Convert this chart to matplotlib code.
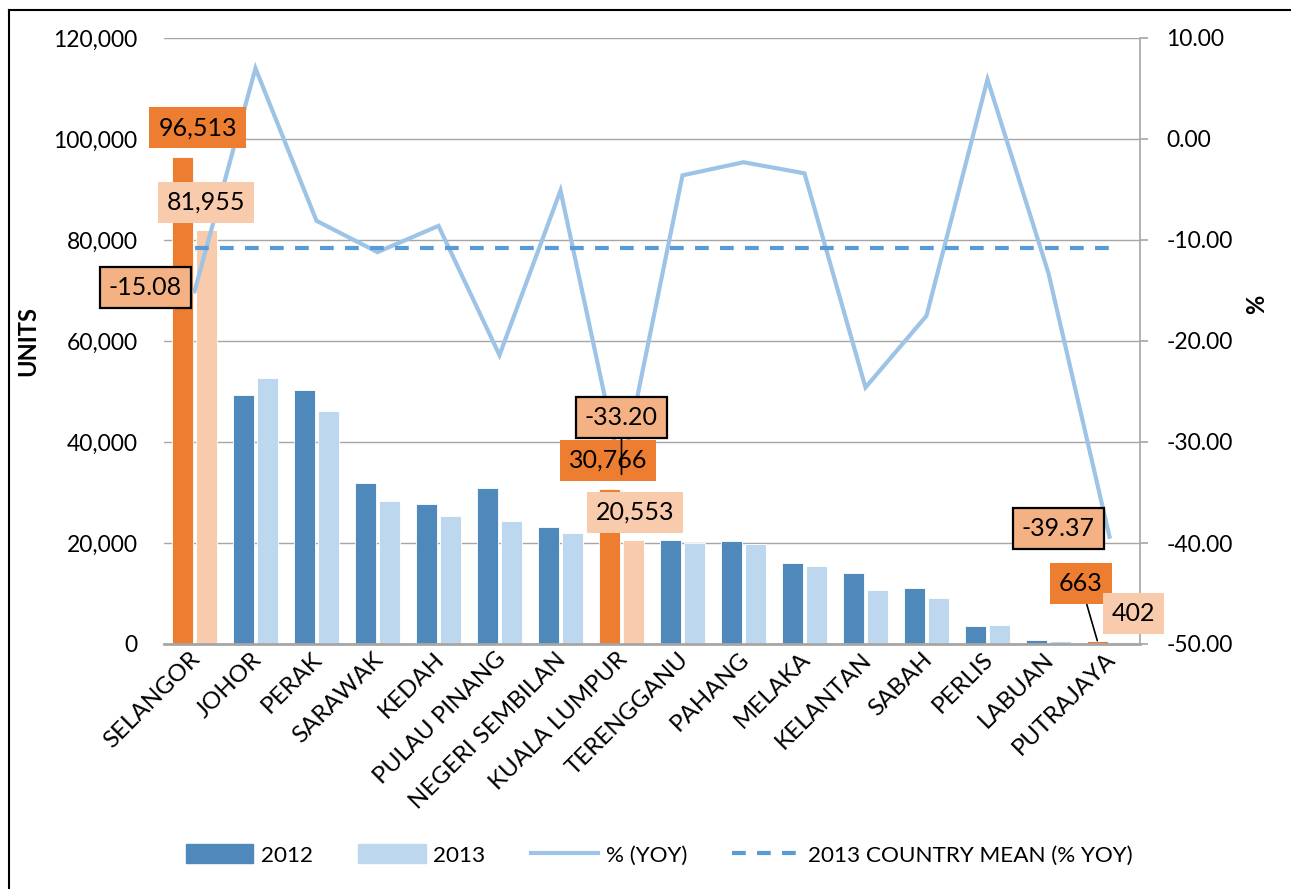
import matplotlib
matplotlib.use("Agg")
import matplotlib.pyplot as plt
from matplotlib.patches import Patch
from matplotlib.lines import Line2D
from matplotlib.ticker import FuncFormatter, FixedLocator
from matplotlib.transforms import ScaledTranslation
import numpy as np

plt.rcParams['font.family'] = ['Lato', 'DejaVu Sans']

categories = ['SELANGOR', 'JOHOR', 'PERAK', 'SARAWAK', 'KEDAH', 'PULAU PINANG',
              'NEGERI SEMBILAN', 'KUALA LUMPUR', 'TERENGGANU', 'PAHANG', 'MELAKA',
              'KELANTAN', 'SABAH', 'PERLIS', 'LABUAN', 'PUTRAJAYA']
units_2012 = [96513, 49300, 50300, 31950, 27720, 30890, 23170, 30766, 20660, 20330,
              15980, 14120, 11090, 3500, 790, 663]
units_2013 = [81955, 52730, 46200, 28380, 25350, 24290, 21980, 20553, 19950, 19850,
              15450, 10690, 9170, 3700, 560, 402]
yoy_pct = [-15.08, 7.0, -8.1, -11.2, -8.6, -21.4, -5.1, -33.20, -3.6, -2.3, -3.4,
           -24.6, -17.5, 5.9, -13.3, -39.37]
country_mean_yoy = -10.8
highlight = ['SELANGOR', 'KUALA LUMPUR', 'PUTRAJAYA']

C12 = '#4F89BC'
C13 = '#BDD7EE'
CO12 = '#ED7D31'
CO13 = '#F8CBAD'
CLINE = '#9DC3E6'
CMEAN = '#5B9BD5'
CLAB = '#F4B183'
GRID = '#A6A6A6'

W, H = 1291, 889
fig = plt.figure(figsize=(W / 100, H / 100), dpi=100)
L, R, T, B = 164, 1140, 38, 644
ax = fig.add_axes([L / W, 1 - B / H, (R - L) / W, (B - T) / H])
ax2 = ax.twinx()

x = np.arange(len(categories))
bw = 0.335
off = 0.2
col12 = [CO12 if c in highlight else C12 for c in categories]
col13 = [CO13 if c in highlight else C13 for c in categories]
ax.bar(x - off, units_2012, bw, color=col12, edgecolor='white', linewidth=0.6, zorder=2)
ax.bar(x + off, units_2013, bw, color=col13, edgecolor='white', linewidth=0.6, zorder=2)

ax.set_xlim(-0.5, len(categories) - 0.5)
ax.set_ylim(0, 120000)
ax.yaxis.set_major_locator(FixedLocator(np.arange(0, 120001, 20000)))
ax.yaxis.set_major_formatter(FuncFormatter(lambda v, p: f"{int(v):,}"))
ax.grid(axis='y', color=GRID, linewidth=1.0, zorder=0)
ax.set_axisbelow(True)
for s in ['top', 'right', 'left']:
    ax.spines[s].set_visible(False)
ax.spines['bottom'].set_color(GRID)
ax.spines['bottom'].set_linewidth(2)
ax.tick_params(axis='y', length=0, pad=19, labelsize=16.5)
ax.set_xticks(x)
ax.set_xticklabels(categories, rotation=45, ha='right', va='top',
                   rotation_mode='anchor', fontsize=17.3)
ax.tick_params(axis='x', length=0, pad=4)
shift = ScaledTranslation(-5 / 100, 1 / 100, fig.dpi_scale_trans)
for lab in ax.get_xticklabels():
    lab.set_transform(lab.get_transform() + shift)

ax2.plot(x, yoy_pct, color=CLINE, linewidth=3, zorder=3, solid_joinstyle='miter')
ax2.plot(x, [country_mean_yoy] * len(x), color=CMEAN, linewidth=3,
         linestyle=(0, (3.3, 2.7)), zorder=3)
ax2.set_ylim(-50, 10)
ax2.yaxis.set_major_locator(FixedLocator(np.arange(-50, 10.1, 10)))
ax2.yaxis.set_major_formatter(FuncFormatter(lambda v, p: f"{v:.2f}"))
for s in ['top', 'left', 'bottom']:
    ax2.spines[s].set_visible(False)
ax2.spines['right'].set_color(GRID)
ax2.spines['right'].set_linewidth(1.2)
ax2.tick_params(axis='y', direction='out', length=6, width=1.2, color=GRID,
                pad=13, labelsize=16.5)

ax.set_ylabel('UNITS', fontsize=17, fontweight='bold')
ax2.set_ylabel('%', fontsize=17, fontweight='bold')
ax.yaxis.set_label_coords(-0.128, 0.50)
ax2.yaxis.set_label_coords(1.108, 0.56)

def box(fc, edge=False):
    return dict(boxstyle='square,pad=0.36', fc=fc,
                ec='black' if edge else 'none', lw=1.6 if edge else 0)

fs = 18
i_sel = categories.index('SELANGOR')
i_kl = categories.index('KUALA LUMPUR')
i_pj = categories.index('PUTRAJAYA')

def bar_label(i, vals, side, tx, ty, fc, arrow=False):
    ax2.annotate(f"{vals[i]:,}", xy=(i + side, vals[i]), xycoords=ax.transData,
                 xytext=(tx, ty), textcoords=ax.transData,
                 ha='center', va='center', fontsize=fs, bbox=box(fc), zorder=10,
                 arrowprops=dict(arrowstyle='-', color='black', lw=1.2,
                                 shrinkA=0, shrinkB=0) if arrow else None)

def pct_label(i, tx, ty, arrow=False):
    ax2.annotate(f"{yoy_pct[i]:.2f}", xy=(i, yoy_pct[i]), xycoords='data',
                 xytext=(tx, ty), textcoords='data',
                 ha='center', va='center', fontsize=fs, bbox=box(CLAB, True), zorder=11,
                 arrowprops=dict(arrowstyle='-', color='black', lw=1.2,
                                 shrinkA=0, shrinkB=0) if arrow else None)

bar_label(i_sel, units_2012, -off, 0.05, 102200, CO12)
bar_label(i_sel, units_2013, off, 0.19, 87500, CO13)
bar_label(i_kl, units_2012, -off, 6.78, 36400, CO12)
bar_label(i_kl, units_2013, off, 7.22, 26100, CO13)
bar_label(i_pj, units_2012, -off, 14.53, 11900, CO12, arrow=True)
bar_label(i_pj, units_2013, off, 15.39, 6100, CO13)
pct_label(i_sel, -0.81, -14.75)
pct_label(i_kl, 7.0, -27.6, arrow=True)
pct_label(i_pj, 14.16, -38.6)

handles = [Patch(color=C12), Patch(color=C13),
           Line2D([], [], color=CLINE, lw=3),
           Line2D([], [], color=CMEAN, lw=3, linestyle=(0, (3.3, 2.7)))]
labels = ['2012', '2013', '% (YOY)', '2013 COUNTRY MEAN (% YOY)']
fig.legend(handles, labels, loc='center', bbox_to_anchor=(659 / W, 1 - 855 / H),
           ncol=4, frameon=False, fontsize=16.2, handlelength=3.0, handleheight=0.92,
           handletextpad=0.35, columnspacing=2.0)

fig.add_artist(Line2D([9 / W, 9 / W], [0, 1 - 10 / H], transform=fig.transFigure,
                      color='black', lw=1.5))
fig.add_artist(Line2D([9 / W, 1], [1 - 10 / H, 1 - 10 / H], transform=fig.transFigure,
                      color='black', lw=1.5))

fig.savefig('out.png', dpi=100)
